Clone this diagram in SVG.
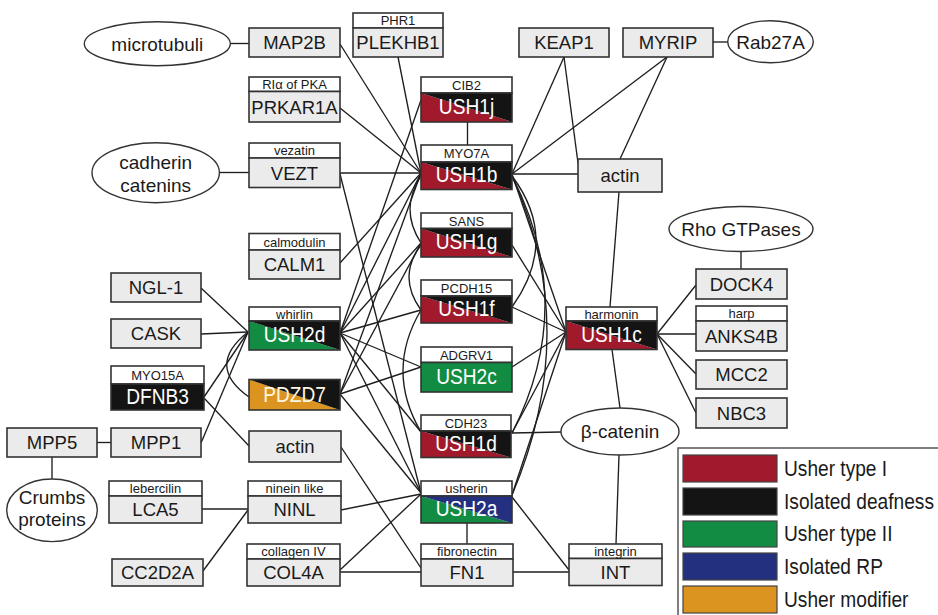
<svg xmlns="http://www.w3.org/2000/svg" width="938" height="615" viewBox="0 0 938 615">
<style>
.bx{fill:#ebebeb;stroke:#333;stroke-width:1.6}
.hd{fill:#fff;stroke:#333;stroke-width:1.6}
.ol{fill:none;stroke:#333;stroke-width:1.6}
.el{fill:#fff;stroke:#333;stroke-width:1.4}
.r{fill:#a01a2c}.k{fill:#141414}.g{fill:#138c43}.b{fill:#22307f}.o{fill:#dc9420}
.t{font-family:"Liberation Sans",Arial,sans-serif;font-size:18.5px;fill:#1a1a1a;text-anchor:middle}
.h{font-size:13px}
.e{font-size:19px}
.u{font-size:21.5px;fill:#fff}
.lg{font-family:"Liberation Sans",Arial,sans-serif;font-size:22px;fill:#1a1a1a}
.ln{stroke:#1e1e1e;stroke-width:1.35;fill:none}
.sw{stroke:#444;stroke-width:1.2}
</style>
<g id="connectors" class="ln">
<line x1="230" y1="43.5" x2="249" y2="43.5"/>
<line x1="219.5" y1="172.5" x2="249" y2="172.5"/>
<line x1="713" y1="42" x2="728" y2="42"/>
<line x1="741" y1="251.5" x2="741" y2="269"/>
<line x1="97" y1="442.5" x2="111" y2="442.5"/>
<line x1="52" y1="457" x2="52" y2="479"/>
<line x1="202" y1="509" x2="248" y2="509"/>
<line x1="203" y1="571" x2="248" y2="510"/>
<line x1="467.5" y1="122" x2="467.5" y2="145"/>
<line x1="467" y1="523" x2="467" y2="544"/>
<line x1="340" y1="572" x2="421" y2="572"/>
<line x1="513" y1="572" x2="569" y2="572"/>
<line x1="619" y1="455" x2="616" y2="544"/>
<line x1="619" y1="192" x2="610" y2="307"/>
<line x1="612" y1="349.5" x2="620" y2="408"/>
<line x1="657" y1="334" x2="696" y2="285"/>
<line x1="657" y1="334" x2="696" y2="334"/>
<line x1="657" y1="334" x2="696" y2="374"/>
<line x1="657" y1="334" x2="696" y2="413"/>
<line x1="512" y1="433" x2="561" y2="432"/>
<line x1="512" y1="174" x2="578" y2="174"/>
<line x1="512" y1="174" x2="564" y2="57"/>
<line x1="512" y1="174" x2="667" y2="57"/>
<line x1="564" y1="57" x2="578" y2="163"/>
<line x1="667" y1="57" x2="620" y2="159"/>
<line x1="340" y1="44" x2="421" y2="173"/>
<line x1="398" y1="57" x2="421" y2="173"/>
<line x1="340" y1="108" x2="421" y2="173"/>
<line x1="340" y1="173" x2="421" y2="173"/>
<line x1="340" y1="263" x2="421" y2="173"/>
<line x1="340" y1="174" x2="421" y2="493"/>
<line x1="201" y1="288" x2="248" y2="332"/>
<line x1="201" y1="334" x2="248" y2="332"/>
<line x1="204" y1="397" x2="248" y2="332"/>
<line x1="201" y1="443" x2="248" y2="332"/>
<line x1="204" y1="398" x2="249" y2="446"/>
<path d="M248,332 Q205,366 249,397"/>
<line x1="340" y1="333" x2="421" y2="100"/>
<line x1="340" y1="333" x2="421" y2="173"/>
<line x1="340" y1="333" x2="421" y2="243"/>
<line x1="340" y1="333" x2="421" y2="310"/>
<line x1="340" y1="333" x2="421" y2="367"/>
<line x1="340" y1="333" x2="421" y2="432"/>
<line x1="340" y1="333" x2="421" y2="493"/>
<line x1="340" y1="394" x2="421" y2="173"/>
<line x1="340" y1="394" x2="421" y2="243"/>
<line x1="340" y1="394" x2="421" y2="367"/>
<line x1="340" y1="394" x2="421" y2="493"/>
<line x1="341" y1="447" x2="421" y2="568"/>
<line x1="341" y1="510" x2="421" y2="494"/>
<line x1="340" y1="570" x2="421" y2="494"/>
<line x1="512" y1="497" x2="569" y2="570"/>
<line x1="512" y1="174" x2="566" y2="332"/>
<line x1="512" y1="245" x2="566" y2="332"/>
<line x1="512" y1="307" x2="566" y2="332"/>
<line x1="512" y1="367" x2="566" y2="332"/>
<line x1="512" y1="433" x2="566" y2="332"/>
<line x1="512" y1="495" x2="566" y2="332"/>
<path d="M421,176 Q399,209 421,243"/>
<path d="M421,245 Q397,277 421,310"/>
<path d="M421,310 Q385,371 421,432"/>
<path d="M512,176 Q560,240 512,307"/>
<path d="M512,176 Q578,305 512,433"/>
<path d="M512,176 Q582,330 512,495"/>
</g>
<g id="microtubuli"><ellipse class="el" cx="157.3" cy="43.7" rx="73" ry="22"/><text class="t e" x="157.3" y="50.5">microtubuli</text></g>
<g id="cadherin"><ellipse class="el" cx="155.7" cy="172.7" rx="63.7" ry="30"/><text class="t e" x="155.7" y="168.5">cadherin</text><text class="t e" x="155.7" y="191.5">catenins</text></g>
<g id="Rab27A"><ellipse class="el" cx="770.5" cy="41.7" rx="42.8" ry="21"/><text class="t e" x="770.5" y="48.5">Rab27A</text></g>
<g id="RhoGTPases"><ellipse class="el" cx="741" cy="229" rx="72" ry="22.5"/><text class="t e" x="741" y="235.5">Rho GTPases</text></g>
<g id="bcatenin"><ellipse class="el" cx="620" cy="431.5" rx="59" ry="23.5"/><text class="t e" x="620" y="438">β-catenin</text></g>
<g id="Crumbs"><ellipse class="el" cx="52" cy="510.3" rx="45.3" ry="31.3"/><text class="t e" x="52" y="503.5">Crumbs</text><text class="t e" x="52" y="526">proteins</text></g>

<g id="MAP2B"><rect class="bx" x="249" y="28" width="91" height="29"/><text class="t" x="294.5" y="49">MAP2B</text></g>
<g id="PLEKHB1"><rect class="hd" x="353" y="13" width="90" height="15"/><rect class="bx" x="353" y="28" width="90" height="29"/><text class="t h" x="398" y="25.2">PHR1</text><text class="t" x="398" y="49">PLEKHB1</text></g>
<g id="PRKAR1A"><rect class="hd" x="249" y="77" width="91" height="14.5"/><rect class="bx" x="249" y="91.5" width="91" height="30.5"/><text class="t h" x="294.5" y="89">RIα of PKA</text><text class="t" x="294.5" y="113.5">PRKAR1A</text></g>
<g id="VEZT"><rect class="hd" x="249" y="143" width="91" height="15"/><rect class="bx" x="249" y="158" width="91" height="29.5"/><text class="t h" x="294.5" y="155.2">vezatin</text><text class="t" x="294.5" y="179.5">VEZT</text></g>
<g id="CALM1"><rect class="hd" x="249" y="233.5" width="91" height="16.5"/><rect class="bx" x="249" y="250" width="91" height="29"/><text class="t h" x="294.5" y="246.5">calmodulin</text><text class="t" x="294.5" y="271">CALM1</text></g>
<g id="USH2d"><rect class="hd" x="249" y="307" width="91" height="14"/><polygon class="g" points="249,321 340,350 249,350"/><polygon class="k" points="249,321 340,321 340,350"/><rect class="ol" x="249" y="321" width="91" height="29"/><text class="t h" x="294.5" y="318.6">whirlin</text><text class="t u" transform="matrix(0.89 0 0 1 294.5 0)" x="0" y="342.5">USH2d</text></g>
<g id="PDZD7"><polygon class="o" points="249,379.5 340,410 249,410"/><polygon class="k" points="249,379.5 340,379.5 340,410"/><rect class="ol" x="249" y="379.5" width="91" height="30.5"/><text class="t u" transform="matrix(0.89 0 0 1 294.5 0)" x="0" y="402" style="fill:#fff6e0">PDZD7</text></g>
<g id="actinL"><rect class="bx" x="249" y="431" width="92" height="31"/><text class="t" x="295" y="453">actin</text></g>
<g id="NINL"><rect class="hd" x="248" y="481" width="93" height="15"/><rect class="bx" x="248" y="496" width="93" height="27"/><text class="t h" x="294.5" y="493">ninein like</text><text class="t" x="294.5" y="516">NINL</text></g>
<g id="COL4A"><rect class="hd" x="247" y="544" width="93" height="15"/><rect class="bx" x="247" y="559" width="93" height="27"/><text class="t h" x="293.5" y="556">collagen IV</text><text class="t" x="293.5" y="579">COL4A</text></g>
<g id="NGL-1"><rect class="bx" x="111" y="273" width="90" height="29"/><text class="t" x="156" y="294">NGL-1</text></g>
<g id="CASK"><rect class="bx" x="111" y="319" width="90" height="29"/><text class="t" x="156" y="340">CASK</text></g>
<g id="DFNB3"><rect class="hd" x="111" y="366" width="93" height="18"/><rect class="k" x="111" y="384" width="93" height="26" stroke="#333" stroke-width="1.6"/><text class="t h" x="157.5" y="380">MYO15A</text><text class="t u" transform="matrix(0.89 0 0 1 157.5 0)" x="0" y="404.5">DFNB3</text></g>
<g id="MPP1"><rect class="bx" x="111" y="428" width="90" height="29"/><text class="t" x="156" y="449">MPP1</text></g>
<g id="MPP5"><rect class="bx" x="7" y="428" width="90" height="29"/><text class="t" x="52" y="449">MPP5</text></g>
<g id="LCA5"><rect class="hd" x="109" y="481" width="93" height="15"/><rect class="bx" x="109" y="496" width="93" height="27"/><text class="t h" x="155.5" y="493">lebercilin</text><text class="t" x="155.5" y="516">LCA5</text></g>
<g id="CC2D2A"><rect class="bx" x="112" y="559" width="91" height="27"/><text class="t" x="157.5" y="579">CC2D2A</text></g>

<g id="USH1j"><rect class="hd" x="421" y="77" width="91" height="16"/><polygon class="r" points="421,93 512,122 421,122"/><polygon class="k" points="421,93 512,93 512,122"/><rect class="ol" x="421" y="93" width="91" height="29"/><text class="t h" x="466.5" y="89.7">CIB2</text><text class="t u" transform="matrix(0.89 0 0 1 466.5 0)" x="0" y="114.5">USH1j</text></g>
<g id="USH1b"><rect class="hd" x="421" y="145" width="91" height="17"/><polygon class="r" points="421,162 512,189.5 421,189.5"/><polygon class="k" points="421,162 512,162 512,189.5"/><rect class="ol" x="421" y="162" width="91" height="27.5"/><text class="t h" x="466.5" y="158.2">MYO7A</text><text class="t u" transform="matrix(0.89 0 0 1 466.5 0)" x="0" y="182.5">USH1b</text></g>
<g id="USH1g"><rect class="hd" x="421" y="213" width="91" height="15.5"/><polygon class="r" points="421,228.5 512,257 421,257"/><polygon class="k" points="421,228.5 512,228.5 512,257"/><rect class="ol" x="421" y="228.5" width="91" height="28.5"/><text class="t h" x="466.5" y="225.5">SANS</text><text class="t u" transform="matrix(0.89 0 0 1 466.5 0)" x="0" y="249.5">USH1g</text></g>
<g id="USH1f"><rect class="hd" x="421" y="280" width="91" height="16"/><polygon class="r" points="421,296 512,323 421,323"/><polygon class="k" points="421,296 512,296 512,323"/><rect class="ol" x="421" y="296" width="91" height="27"/><text class="t h" x="466.5" y="292.7">PCDH15</text><text class="t u" transform="matrix(0.89 0 0 1 466.5 0)" x="0" y="316">USH1f</text></g>
<g id="USH2c"><rect class="hd" x="421" y="347" width="91" height="15.5"/><rect class="g" x="421" y="362.5" width="91" height="29.5" stroke="#333" stroke-width="1.6"/><text class="t h" x="466.5" y="359.5">ADGRV1</text><text class="t u" transform="matrix(0.89 0 0 1 466.5 0)" x="0" y="384">USH2c</text></g>
<g id="USH1d"><rect class="hd" x="421" y="415" width="90" height="16"/><polygon class="r" points="421,431 511,457.5 421,457.5"/><polygon class="k" points="421,431 511,431 511,457.5"/><rect class="ol" x="421" y="431" width="90" height="26.5"/><text class="t h" x="466" y="427.7">CDH23</text><text class="t u" transform="matrix(0.89 0 0 1 466 0)" x="0" y="451">USH1d</text></g>
<g id="USH2a"><rect class="hd" x="421" y="481" width="91" height="15"/><polygon class="g" points="421,496 512,523 421,523"/><polygon class="b" points="421,496 512,496 512,523"/><rect class="ol" x="421" y="496" width="91" height="27"/><text class="t h" x="466.5" y="493">usherin</text><text class="t u" transform="matrix(0.89 0 0 1 466.5 0)" x="0" y="516.5">USH2a</text></g>
<g id="FN1"><rect class="hd" x="421" y="544" width="92" height="15"/><rect class="bx" x="421" y="559" width="92" height="27"/><text class="t h" x="467" y="556">fibronectin</text><text class="t" x="467" y="579">FN1</text></g>
<g id="KEAP1"><rect class="bx" x="519" y="28" width="90" height="29"/><text class="t" x="564" y="49">KEAP1</text></g>
<g id="MYRIP"><rect class="bx" x="623" y="28" width="90" height="29"/><text class="t" x="668" y="49">MYRIP</text></g>
<g id="actinR"><rect class="bx" x="578" y="159" width="84" height="33"/><text class="t" x="620" y="182">actin</text></g>
<g id="USH1c"><rect class="hd" x="566" y="307" width="91" height="14"/><polygon class="r" points="566,321 657,349.5 566,349.5"/><polygon class="k" points="566,321 657,321 657,349.5"/><rect class="ol" x="566" y="321" width="91" height="28.5"/><text class="t h" x="611.5" y="318.6">harmonin</text><text class="t u" transform="matrix(0.89 0 0 1 611.5 0)" x="0" y="342">USH1c</text></g>
<g id="INT"><rect class="hd" x="569" y="544" width="93" height="14.5"/><rect class="bx" x="569" y="558.5" width="93" height="27"/><text class="t h" x="615.5" y="556">integrin</text><text class="t" x="615.5" y="579">INT</text></g>
<g id="DOCK4"><rect class="bx" x="696" y="269" width="91" height="30"/><text class="t" x="741.5" y="290.5">DOCK4</text></g>
<g id="ANKS4B"><rect class="hd" x="696" y="306" width="91" height="15"/><rect class="bx" x="696" y="321" width="91" height="30"/><text class="t h" x="741.5" y="318">harp</text><text class="t" x="741.5" y="342.5">ANKS4B</text></g>
<g id="MCC2"><rect class="bx" x="696" y="360" width="91" height="29"/><text class="t" x="741.5" y="381">MCC2</text></g>
<g id="NBC3"><rect class="bx" x="696" y="398" width="91" height="30"/><text class="t" x="741.5" y="419.5">NBC3</text></g>

<g id="legend">
<rect x="678" y="448" width="290" height="200" fill="#fff" stroke="#555" stroke-width="1.5"/>
<rect class="r sw" x="683" y="455" width="94" height="27"/>
<rect class="k sw" x="683" y="488" width="94" height="27"/>
<rect class="g sw" x="683" y="521" width="94" height="26"/>
<rect class="b sw" x="683" y="553" width="94" height="27"/>
<rect class="o sw" x="683" y="586" width="94" height="27"/>
<g transform="matrix(0.87 0 0 1 784 0)">
<text class="lg" x="0" y="476">Usher type I</text>
<text class="lg" x="0" y="509">Isolated deafness</text>
<text class="lg" x="0" y="541.5">Usher type II</text>
<text class="lg" x="0" y="574">Isolated RP</text>
<text class="lg" x="0" y="607">Usher modifier</text>
</g>
</g>
</svg>
